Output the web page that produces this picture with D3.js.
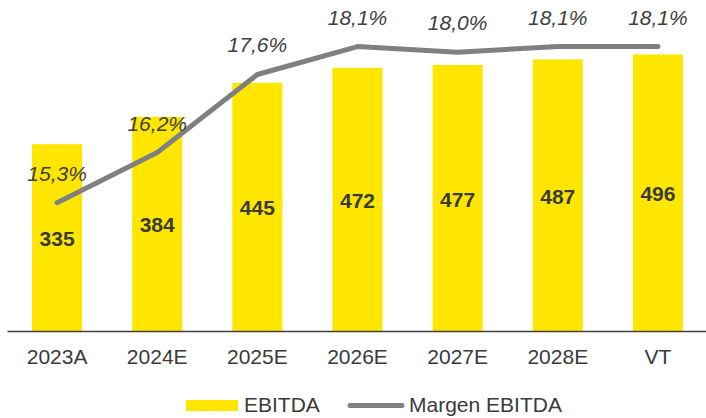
<!DOCTYPE html>
<html>
<head>
<meta charset="utf-8">
<script src="https://cdn.jsdelivr.net/npm/d3@7/dist/d3.min.js"></script>
<style>
  html, body { margin: 0; padding: 0; background: #fff; }
  svg { display: block; font-family: "Liberation Sans", Arial, sans-serif; }
</style>
</head>
<body>
<svg id="chart" width="706" height="418"></svg>
<script>
// EBITDA and EBITDA margin by period
const categories = ["2023A", "2024E", "2025E", "2026E", "2027E", "2028E", "VT"];
const ebitda = [335, 384, 445, 472, 477, 487, 496];
const margin = [15.3, 16.2, 17.6, 18.1, 18.0, 18.1, 18.1];
const legendLabels = ["EBITDA", "Margen EBITDA"];

const YELLOW = "#FFE600";
const GREY_LINE = "#808080";
const TEXT = "#3a3a3a";

const svg = d3.select("#chart");
const baseY = 331, topY = -3.6;

const x = d3.scaleBand().domain(categories).range([7, 708]).paddingInner(0.5).paddingOuter(0.25);
const y = d3.scaleLinear().domain([0, 600]).range([baseY, topY]);
const y2 = d3.scaleLinear().domain([13, 19]).range([baseY, topY]);

const fmtPct = v => d3.format(".1f")(v).replace(".", ",") + "%";

// bars
svg.append("g").selectAll("rect").data(ebitda).join("rect")
  .attr("x", (d, i) => x(categories[i]))
  .attr("width", x.bandwidth())
  .attr("y", d => y(d))
  .attr("height", d => y(0) - y(d))
  .attr("fill", YELLOW);

// bar value labels
svg.append("g").selectAll("text").data(ebitda).join("text")
  .attr("x", (d, i) => x(categories[i]) + x.bandwidth() / 2)
  .attr("y", d => (y(d) + y(0)) / 2 + 1)
  .attr("dy", "0.36em")
  .attr("text-anchor", "middle")
  .attr("font-size", 21)
  .attr("font-weight", "bold")
  .attr("fill", TEXT)
  .text(d => d);

// x axis
const xAxis = svg.append("g")
  .attr("transform", `translate(0,${baseY})`)
  .call(d3.axisBottom(x).tickSize(0).tickSizeOuter(0).tickPadding(18));
xAxis.select(".domain").attr("stroke", "#404040").attr("stroke-width", 1.6);
xAxis.selectAll("text")
  .attr("font-size", 21)
  .attr("font-family", "Liberation Sans, Arial, sans-serif")
  .attr("fill", TEXT);

// margin line
const line = d3.line()
  .x((d, i) => x(categories[i]) + x.bandwidth() / 2)
  .y(d => y2(d));
svg.append("path")
  .datum(margin)
  .attr("d", line)
  .attr("fill", "none")
  .attr("stroke", GREY_LINE)
  .attr("stroke-width", 5)
  .attr("stroke-linejoin", "round")
  .attr("stroke-linecap", "round");

// margin labels
svg.append("g").selectAll("text").data(margin).join("text")
  .attr("x", (d, i) => x(categories[i]) + x.bandwidth() / 2)
  .attr("y", d => y2(d) - 22)
  .attr("text-anchor", "middle")
  .attr("font-size", 21)
  .attr("font-style", "italic")
  .attr("fill", "#404040")
  .text(d => fmtPct(d));

// legend
const lg = svg.append("g");
lg.append("rect").attr("x", 186).attr("y", 400).attr("width", 52).attr("height", 11).attr("fill", YELLOW);
lg.append("text").attr("x", 244).attr("y", 412).attr("font-size", 21).attr("fill", TEXT).text(legendLabels[0]);
lg.append("line").attr("x1", 350).attr("x2", 402).attr("y1", 405.5).attr("y2", 405.5)
  .attr("stroke", GREY_LINE).attr("stroke-width", 5).attr("stroke-linecap", "round");
lg.append("text").attr("x", 409).attr("y", 412).attr("font-size", 21).attr("fill", TEXT).text(legendLabels[1]);
</script>
</body>
</html>
